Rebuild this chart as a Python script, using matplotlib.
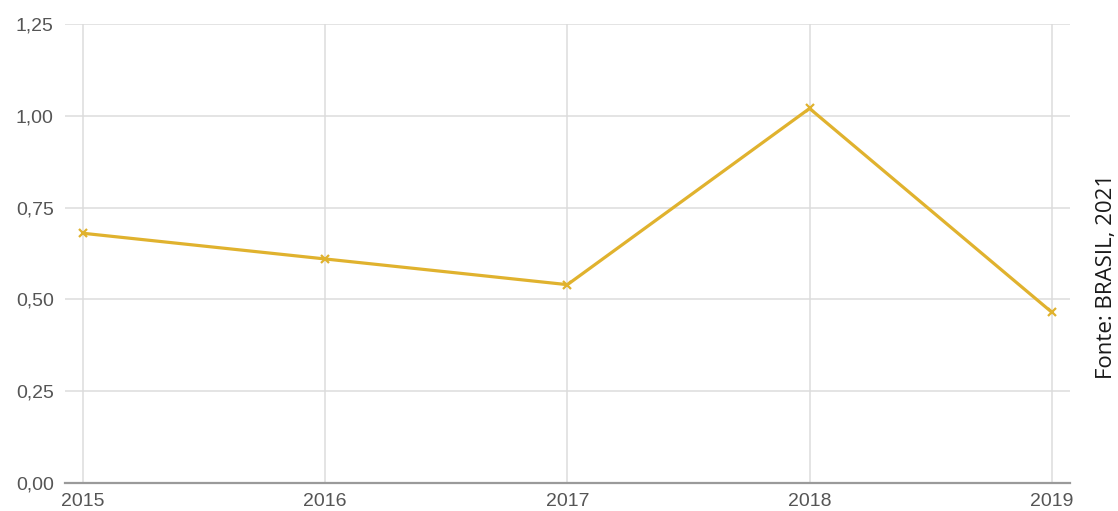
"""Line chart of yearly values 2015-2019 (Fonte: BRASIL, 2021)."""

import matplotlib.pyplot as plt

YEARS = [2015, 2016, 2017, 2018, 2019]
VALUES = [0.68, 0.61, 0.54, 1.02, 0.465]
Y_TICKS = [0.0, 0.25, 0.5, 0.75, 1.0, 1.25]
Y_LABELS = ["0,00", "0,25", "0,50", "0,75", "1,00", "1,25"]
SOURCE = "Fonte: BRASIL, 2021"

LINE_COLOR = "#e0b22e"
GRID_COLOR = "#dcdcdc"
TEXT_COLOR = "#555555"


def main() -> None:
    fig = plt.figure(figsize=(11.18, 5.11), dpi=100)
    ax = fig.add_axes([0.058, 0.055, 0.899, 0.898])

    ax.plot(YEARS, VALUES, color=LINE_COLOR, lw=2.3, marker="x",
            markersize=6, markeredgewidth=1.6, zorder=3)

    ax.set_xlim(YEARS[0] - 0.075, YEARS[-1] + 0.075)
    ax.set_ylim(0, 1.25)
    ax.set_xticks(YEARS)
    ax.set_xticklabels([str(y) for y in YEARS])
    ax.set_yticks(Y_TICKS)
    ax.set_yticklabels(Y_LABELS)

    ax.grid(True, color=GRID_COLOR, lw=1.1)
    ax.set_axisbelow(True)
    ax.spines[["top", "right", "left"]].set_visible(False)
    ax.spines["bottom"].set_color("#9a9a9a")
    ax.spines["bottom"].set_linewidth(1.6)
    ax.tick_params(axis="both", length=0, labelsize=14,
                   labelcolor=TEXT_COLOR)
    ax.tick_params(axis="x", pad=7)
    ax.tick_params(axis="y", pad=8)
    for lab in ax.get_xticklabels() + ax.get_yticklabels():
        lab.set_family("Liberation Sans")

    fig.text(0.99, 0.46, SOURCE, rotation=90, ha="center", va="center",
             fontsize=16, family="Open Sans", color="#1a1a1a")

    fig.savefig("out.png", dpi=100)


if __name__ == "__main__":
    main()
